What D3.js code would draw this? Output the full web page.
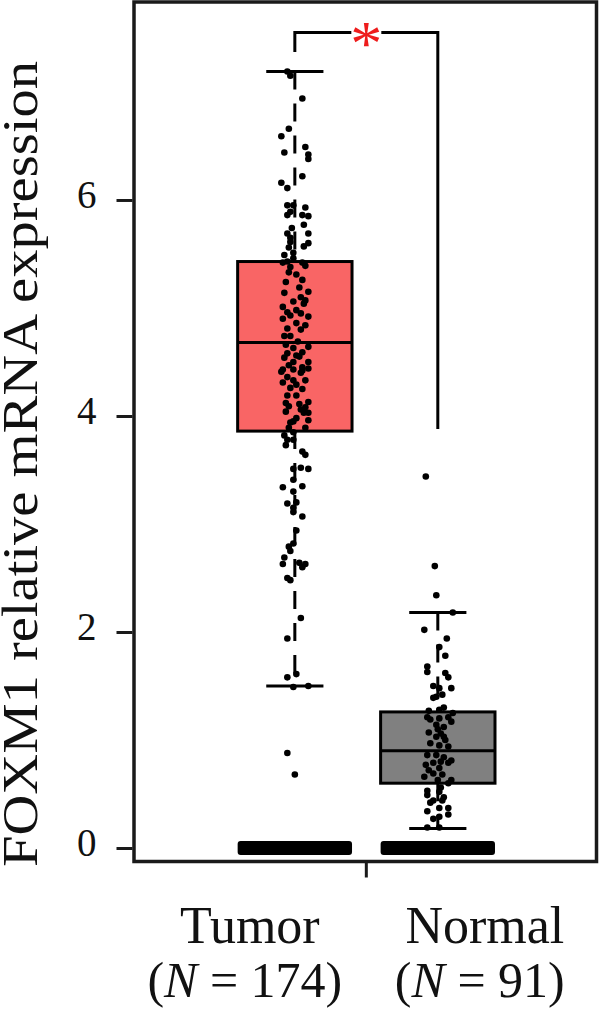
<!DOCTYPE html>
<html>
<head>
<meta charset="utf-8">
<script src="https://cdn.jsdelivr.net/npm/d3@7.9.0/dist/d3.min.js"></script>
<style>
  html, body { margin: 0; padding: 0; background: #fff; }
  svg { display: block; }
</style>
</head>
<body>
<svg id="chart" width="600" height="1012"></svg>
<script>
// groups and summary stats
const groups = ["Tumor", "Normal"];
const groupN = ["174", "91"];
const boxFill = ["#f96565", "#808080"];
const q1 = [3.86, 0.60];
const median = [4.68, 0.90];
const q3 = [5.43, 1.26];
const whiskerLo = [1.50, 0.18];
const whiskerHi = [7.19, 2.18];
const yTicks = [0, 2, 4, 6];

// jittered points (value, jitter in -1..1)
const tumorValues = [7.19, 7.15, 6.94, 6.66, 6.59, 6.49, 6.42, 6.38, 6.44, 6.22, 6.16, 6.11,
  5.95, 5.95, 5.93, 5.89, 5.86, 5.86, 5.85, 5.77, 5.69, 5.69, 5.61, 5.60, 5.56, 5.57, 5.49, 5.51,
  5.42, 5.42, 5.38, 5.39, 5.33, 5.26, 5.19, 5.14, 5.15, 5.10, 5.01, 5.04, 5.06, 4.96, 4.95, 4.92,
  4.93, 4.90, 4.86, 4.81, 4.80, 4.74, 4.74, 4.69, 4.64, 4.63, 4.59, 4.58, 4.55, 4.54, 4.50, 4.50,
  4.47, 4.45, 4.43, 4.43, 4.44, 4.40, 4.36, 4.41, 4.42, 4.33, 4.31, 4.29, 4.26, 4.25, 4.12, 4.11,
  4.13, 4.09, 4.08, 4.04, 4.03, 4.03, 3.96, 3.94, 3.95, 3.82, 3.78, 3.85, 3.78, 3.73, 3.67, 3.64,
  3.51, 3.52, 3.51, 3.41, 3.34, 3.35, 3.30, 3.19, 3.20, 3.15, 3.11, 3.07, 2.94, 2.82, 2.79, 2.75,
  2.69, 2.63, 2.64, 2.63, 2.60, 2.50, 2.48, 2.13, 1.94, 1.58, 1.61, 1.50, 1.49, 0.88, 0.68,
  5.74, 5.65, 5.46, 5.43, 5.31, 5.24, 5.07, 4.98, 4.84, 4.66, 4.56, 4.33, 4.19, 4.19, 4.06, 3.98,
  3.89, 3.89];
const tumorJitter = [-0.5, -0.3, 0.5, -0.4, -0.9, 0.7, 0.9, 0.9, -0.7, 0.5, -0.9, -0.5,
  -0.5, -0.1, 0.7, -0.3, 0.5, -0.5, 0.9, 0.6, -0.5, 0.9, -0.3, 0.9, -0.4, 0.6, -0.7, -0.1,
  0.5, -0.8, -0.3, 0.7, -0.4, 0.5, 0.3, -0.7, 0.9, 0.4, -0.8, 0.6, -0.1, -0.5, 0.4, 0.9,
  -0.3, -0.8, 0.1, -0.5, 0.4, -0.3, -0.7, 0.2, 0.9, -0.1, 0.5, -0.5, 0.3, -0.7, -0.1, 0.9,
  -0.4, 0.5, -0.8, -0.1, 0.9, 0.4, -0.5, -0.9, 0.5, -0.1, -0.8, 0.1, -0.3, 0.5, -0.6, 0.3,
  0.9, -0.4, 0.7, -0.6, 0.6, 0.9, 0.9, -0.3, -0.1, -0.7, -0.5, -0.1, -0.1, -0.6, 0.5, 0.7,
  -0.1, 0.4, 0.9, -0.1, -0.8, 0.5, -0.1, -0.5, 0.1, -0.1, -0.1, 0.5, 0.1, -0.1, -0.4, -0.3,
  -0.7, -0.8, 0.3, 0.7, 0.5, -0.5, -0.3, 0.4, -0.5, -0.5, 0.1, 0.9, -0.1, -0.5, 0.0,
  -0.2, -0.3, -0.1, -0.5, 0.1, -0.6, 0.7, 0.1, 0.7, -0.6, 0.1, 0.7, 0.1, -0.5, 0.4, 0.1,
  0.7, -0.4];
const normalValues = [3.44, 2.61, 2.34, 2.18, 2.02, 1.94, 1.86, 1.78, 1.68, 1.63, 1.62, 1.58,
  1.50, 1.48, 1.48, 1.40, 1.42, 1.39, 1.30, 1.27, 1.28, 1.25, 1.21, 1.21, 1.20, 1.19, 1.17, 1.14,
  1.12, 1.07, 1.06, 1.03, 1.03, 1.10, 1.00, 0.97, 0.95, 0.94, 0.86, 0.86, 0.84, 0.81, 0.77, 0.79,
  0.80, 0.79, 0.72, 0.74, 0.69, 0.68, 0.66, 0.63, 0.63, 0.60, 0.56, 0.53, 0.52, 0.49, 0.47, 0.44,
  0.44, 0.42, 0.37, 0.34, 0.37, 0.31, 0.27, 0.29, 0.19, 0.19];
const normalJitter = [-0.8, -0.2, -0.1, 1.0, -0.9, 0.6, 0.1, 0.5, -0.7, -0.7, 0.5, 0.7,
  -0.3, 0.9, 0.1, -0.1, 0.3, -0.3, 0.4, -0.6, 0.1, 1.0, -0.7, 0.7, 0.1, -0.5, 0.9, -0.1,
  0.4, -0.6, 0.2, -0.1, 0.4, 0.0, 0.5, -0.5, 0.1, 0.7, -0.7, -0.1, 0.4, 0.9, -0.8, -0.3,
  0.2, 0.7, -0.6, 0.1, -0.3, 0.3, -0.9, 0.9, 0.0, 0.7, 0.2, -0.7, 0.1, -0.7, 0.4, -0.3,
  0.3, -0.5, 0.7, -0.7, 0.1, 0.7, -0.3, 0.1, -0.7, 0.1];

// significance bracket (data units)
const bracketTop = 7.55;
const bracketLeftEnd = 7.37;
const bracketRightEnd = 3.88;

const svg = d3.select("#chart");
const frame = { left: 134, right: 596.5, top: 2, bottom: 861.5 };
const FONT = "'Liberation Serif', 'Times New Roman', serif";

const x = d3.scaleLinear().domain([-1.125, 2.11]).range([frame.left, frame.right]);
const y = d3.scaleLinear().domain([-0.125, 7.833]).range([frame.bottom, frame.top]);
const jit = d3.scaleLinear().domain([-1, 1]).range([-15, 15]);
const boxHalf = 0.4, capHalf = 0.2;

const g = svg.append("g");

// zero bars
groups.forEach((grp, i) => {
  g.append("rect")
    .attr("x", x(i - boxHalf)).attr("width", x(i + boxHalf) - x(i - boxHalf))
    .attr("y", y(0) - 7).attr("height", 14)
    .attr("rx", 3)
    .attr("fill", "#000");
});

// whiskers (dashed), caps, boxes
groups.forEach((grp, i) => {
  [[whiskerHi[i], q3[i]], [q1[i], whiskerLo[i]]].forEach(([a, b]) => {
    g.append("line")
      .attr("x1", x(i)).attr("x2", x(i))
      .attr("y1", y(a)).attr("y2", y(b))
      .attr("stroke", "#000").attr("stroke-width", 3)
      .attr("stroke-dasharray", "18,14");
  });
  [whiskerHi[i], whiskerLo[i]].forEach(v => {
    g.append("line")
      .attr("x1", x(i - capHalf)).attr("x2", x(i + capHalf))
      .attr("y1", y(v)).attr("y2", y(v))
      .attr("stroke", "#000").attr("stroke-width", 3);
  });
  g.append("rect")
    .attr("x", x(i - boxHalf)).attr("width", x(i + boxHalf) - x(i - boxHalf))
    .attr("y", y(q3[i])).attr("height", y(q1[i]) - y(q3[i]))
    .attr("fill", boxFill[i])
    .attr("stroke", "#000").attr("stroke-width", 3);
  g.append("line")
    .attr("x1", x(i - boxHalf)).attr("x2", x(i + boxHalf))
    .attr("y1", y(median[i])).attr("y2", y(median[i]))
    .attr("stroke", "#000").attr("stroke-width", 3);
});

// points
const pts = [];
tumorValues.forEach((v, k) => pts.push({ g: 0, v, j: tumorJitter[k] }));
normalValues.forEach((v, k) => pts.push({ g: 1, v, j: normalJitter[k] }));
g.selectAll("circle.pt").data(pts).enter().append("circle")
  .attr("class", "pt")
  .attr("cx", d => x(d.g) + jit(d.j))
  .attr("cy", d => y(d.v))
  .attr("r", 3.3)
  .attr("fill", "#000");

// significance bracket
const bl = x(0), br = x(1), bm = (bl + br) / 2;
const bPath = d3.path();
bPath.moveTo(bl, y(bracketLeftEnd)); bPath.lineTo(bl, y(bracketTop)); bPath.lineTo(bm - 15, y(bracketTop));
bPath.moveTo(bm + 15, y(bracketTop)); bPath.lineTo(br, y(bracketTop)); bPath.lineTo(br, y(bracketRightEnd));
g.append("path").attr("d", bPath.toString())
  .attr("fill", "none").attr("stroke", "#000").attr("stroke-width", 3);
g.append("text")
  .attr("x", bm).attr("y", y(bracketTop) + 32)
  .attr("text-anchor", "middle")
  .attr("font-family", FONT).attr("font-size", 64)
  .attr("fill", "#ee1c1c")
  .text("*");

// frame
svg.append("rect")
  .attr("x", frame.left).attr("y", frame.top)
  .attr("width", frame.right - frame.left).attr("height", frame.bottom - frame.top)
  .attr("fill", "none").attr("stroke", "#1a1a1a").attr("stroke-width", 3.5);

// y axis
const yAxis = svg.append("g")
  .attr("transform", `translate(${frame.left - 1.5},0)`)
  .call(d3.axisLeft(y).tickValues(yTicks).tickFormat(d3.format("d")).tickSize(16).tickPadding(20));
yAxis.select(".domain").remove();
yAxis.selectAll(".tick line").attr("stroke", "#1a1a1a").attr("stroke-width", 3);
yAxis.selectAll(".tick text")
  .attr("font-family", FONT).attr("font-size", 39).attr("fill", "#111")
  .attr("dy", "0.2em");

// x axis tick
svg.append("line")
  .attr("x1", x(0.5)).attr("x2", x(0.5))
  .attr("y1", frame.bottom).attr("y2", frame.bottom + 16)
  .attr("stroke", "#1a1a1a").attr("stroke-width", 3);

// category labels
const labelShift = [-45, 47];
groups.forEach((grp, i) => {
  svg.append("text")
    .attr("x", x(i) + labelShift[i]).attr("y", 943)
    .attr("text-anchor", "middle")
    .attr("font-family", FONT).attr("font-size", 52).attr("fill", "#111")
    .text(grp);
  const t = svg.append("text")
    .attr("x", x(i) + labelShift[i] - 5).attr("y", 997)
    .attr("text-anchor", "middle")
    .attr("font-family", FONT).attr("font-size", 50).attr("fill", "#111");
  t.append("tspan").text("(");
  t.append("tspan").attr("font-style", "italic").text("N");
  t.append("tspan").text(" = " + groupN[i] + ")");
});

// y title
svg.append("text")
  .attr("transform", "translate(37,464) rotate(-90)")
  .attr("text-anchor", "middle")
  .attr("font-family", FONT).attr("font-size", 50).attr("fill", "#111")
  .attr("textLength", 806).attr("lengthAdjust", "spacingAndGlyphs")
  .text("FOXM1 relative mRNA expression");
</script>
</body>
</html>
